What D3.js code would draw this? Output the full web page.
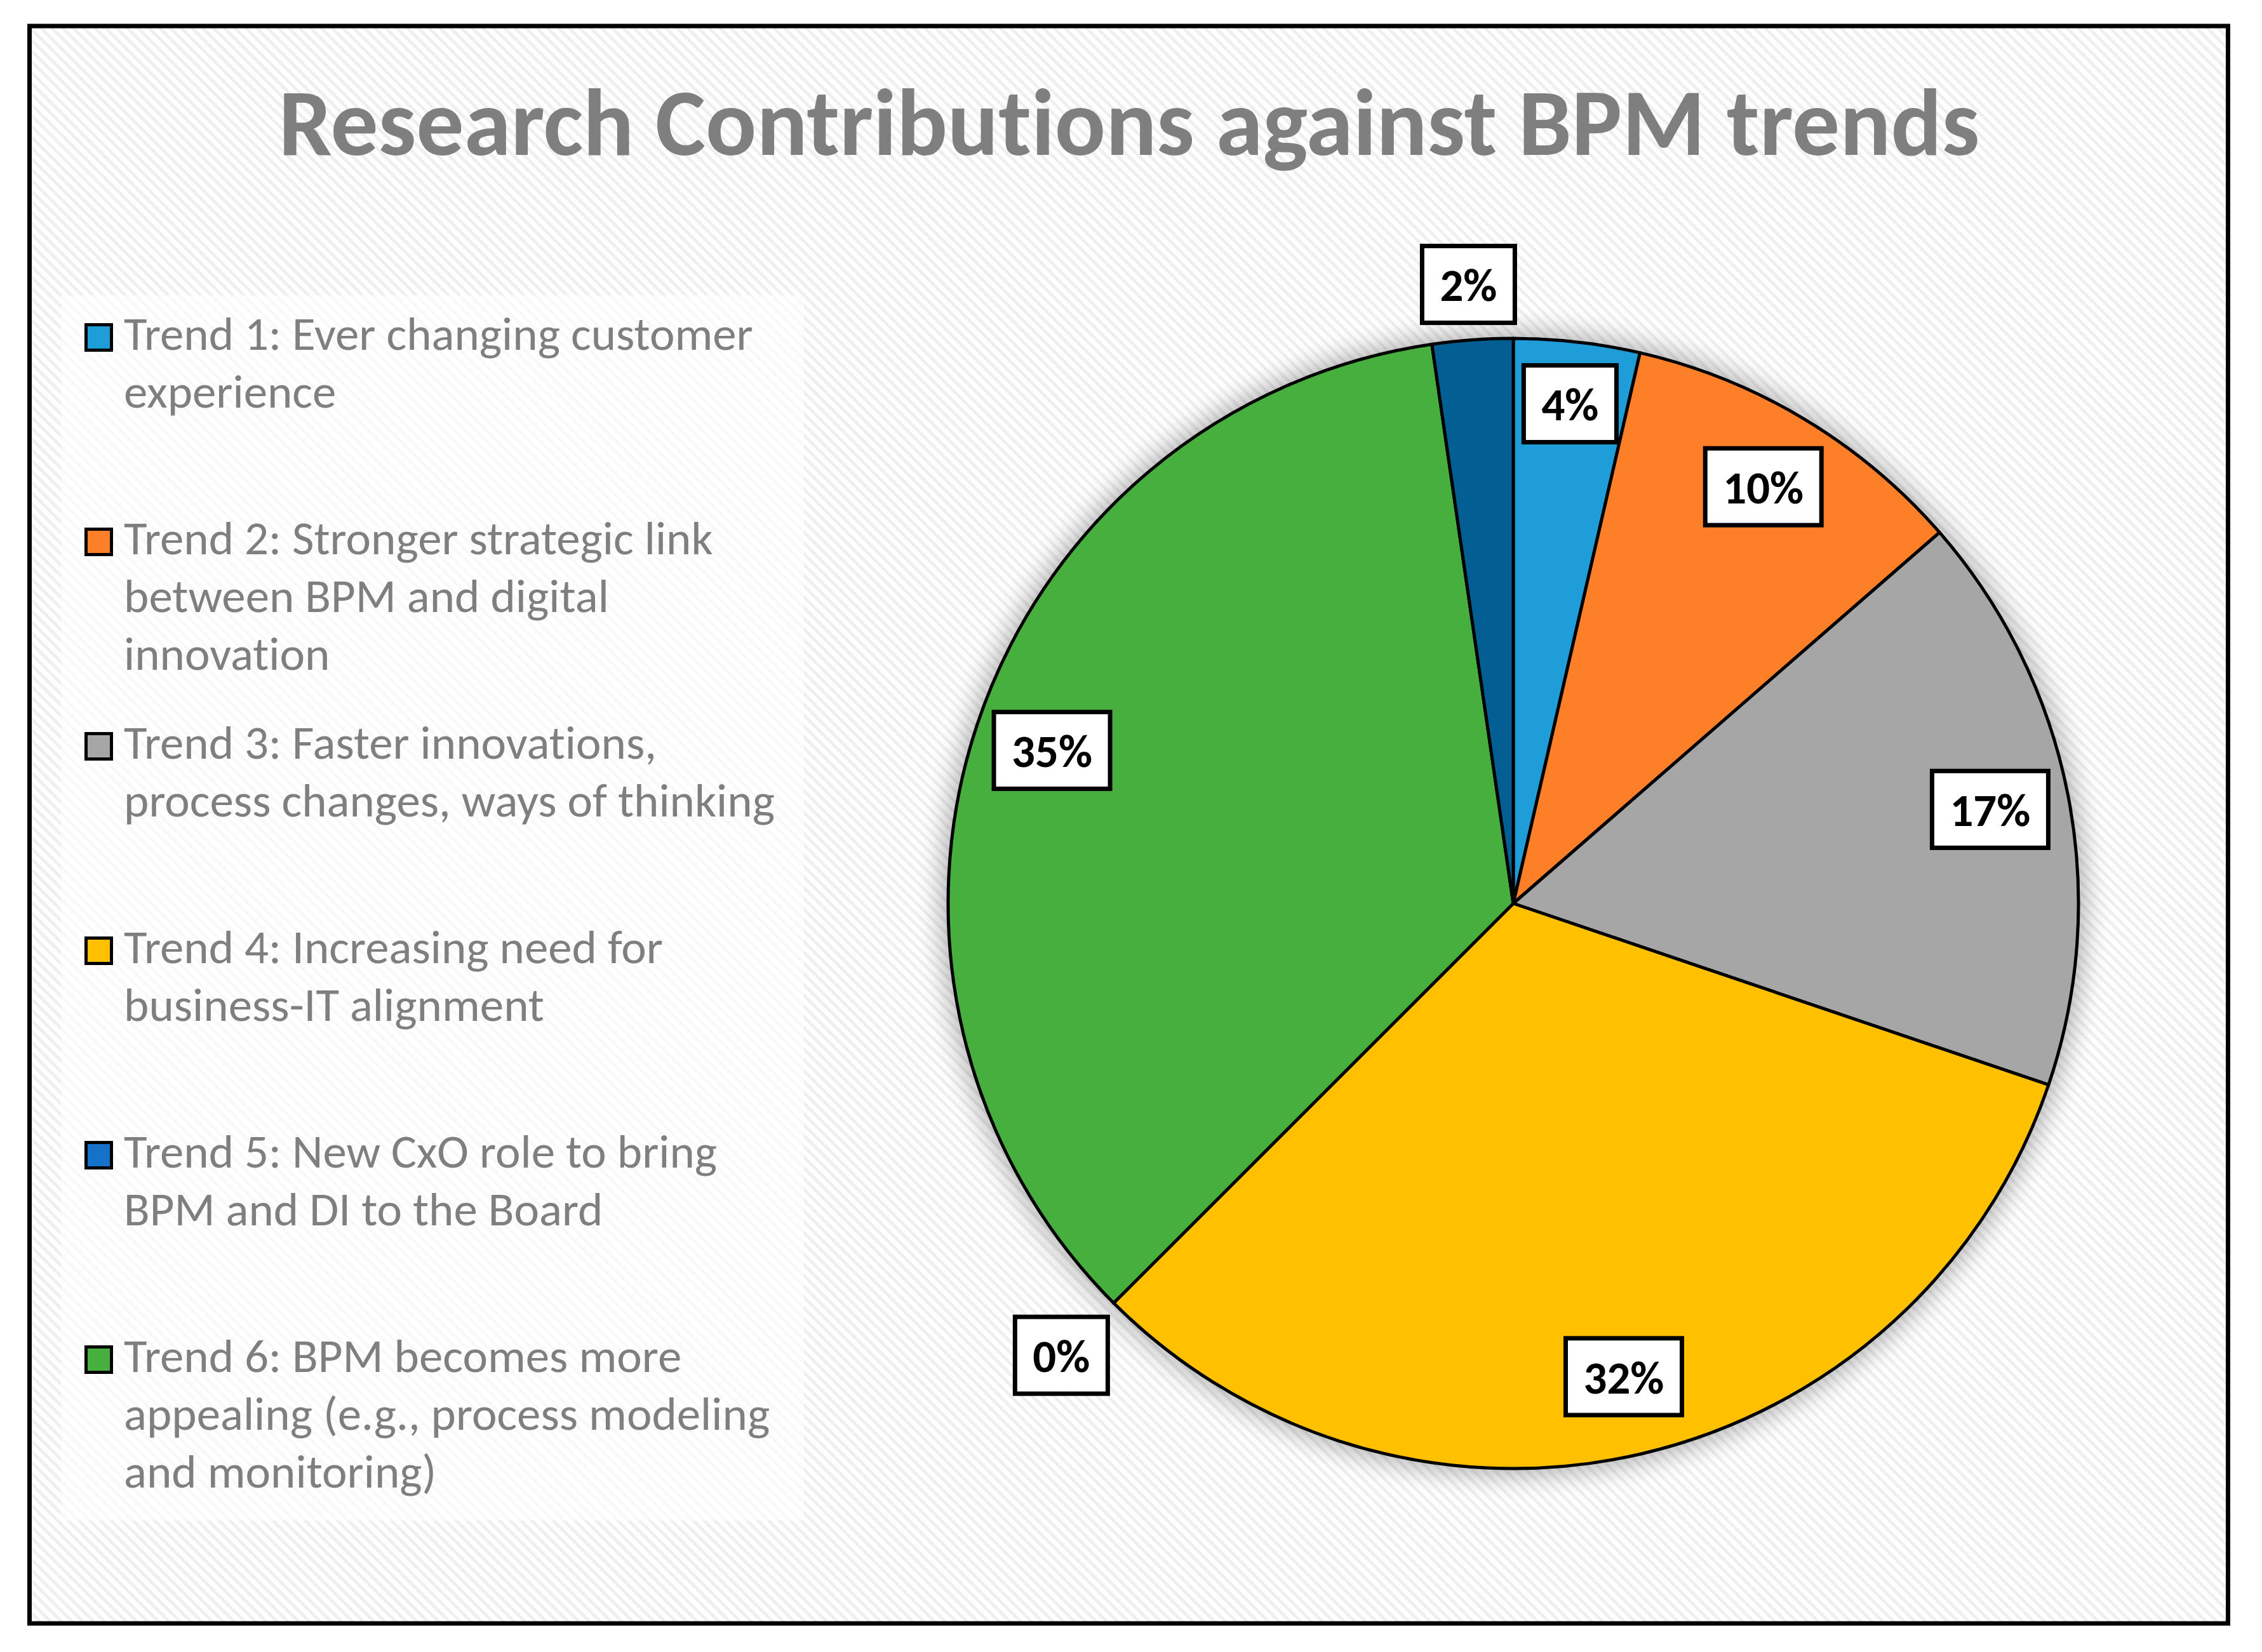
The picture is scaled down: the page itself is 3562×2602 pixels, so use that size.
<!DOCTYPE html>
<html>
<head>
<meta charset="utf-8">
<title>Research Contributions against BPM trends</title>
<script src="https://cdn.jsdelivr.net/npm/d3@7"></script>
<style>
  html, body { margin: 0; padding: 0; background: #ffffff; }
  svg { display: block; }
  text { font-variant-ligatures: none; font-feature-settings: "liga" 0; }
</style>
</head>
<body>
<svg id="chart" width="3562" height="2602"></svg>
<script>
// values (percent, clockwise from 12 o'clock)
var categories = ["Trend 1", "Trend 2", "Trend 3", "Trend 4", "Trend 5", "Trend 6", "Other"];
var values = [3.6, 10.0, 16.6, 32.3, 0, 35.2, 2.3];
var sliceColors = ["#1f9dd9", "#fd7f28", "#a6a6a6", "#ffc000", "#1672c9", "#46af3e", "#025e93"];

// legend text, wrapped the same way as the original
var legendLines = [
    ["Trend 1: Ever changing customer", "experience"],
    ["Trend 2: Stronger strategic link", "between BPM and digital", "innovation"],
    ["Trend 3: Faster innovations,", "process changes, ways of thinking"],
    ["Trend 4: Increasing need for", "business-IT alignment"],
    ["Trend 5: New CxO role to bring", "BPM and DI to the Board"],
    ["Trend 6: BPM becomes more", "appealing (e.g., process modeling", "and monitoring)"]
];
var legendCategories = categories.slice(0, 6);

var chartTitle = "Research Contributions against BPM trends";

var FONT = "Carlito, Calibri, Lato, 'Open Sans', sans-serif";

var svg = d3.select("#chart");
var w = +svg.attr("width");
var h = +svg.attr("height");

var data = categories.map(function (c, i) {
    return { name: c, value: values[i] };
});

var color = d3.scaleOrdinal().domain(categories).range(sliceColors);

// helper: font size so that a string has a given width
function fitSize(str, weight, target) {
    var t = svg.append("text")
        .attr("font-family", FONT)
        .attr("font-weight", weight)
        .attr("font-size", 100)
        .text(str);
    var len = t.node().getComputedTextLength();
    t.remove();
    return 100 * target / len;
}

// background: downward diagonal stripes
var defs = svg.append("defs");
defs.append("pattern")
    .attr("id", "stripes")
    .attr("patternUnits", "userSpaceOnUse")
    .attr("width", 12)
    .attr("height", 12)
    .attr("patternTransform", "rotate(-45)")
    .call(function (p) {
        p.append("rect").attr("width", 12).attr("height", 12).attr("fill", "#ffffff");
        p.append("rect").attr("width", 5).attr("height", 12).attr("fill", "#efefef");
    });

defs.append("filter")
    .attr("id", "glow")
    .attr("x", "-20%").attr("y", "-20%")
    .attr("width", "140%").attr("height", "140%")
    .append("feGaussianBlur")
    .attr("stdDeviation", 20);

svg.append("rect")
    .attr("x", 46.5).attr("y", 41)
    .attr("width", 3462).attr("height", 2516)
    .attr("fill", "url(#stripes)")
    .attr("stroke", "#000")
    .attr("stroke-width", 7);

// title
var titleSize = fitSize(chartTitle, "bold", 2679);
svg.append("text")
    .attr("x", 1778)
    .attr("y", 244)
    .attr("text-anchor", "middle")
    .attr("font-family", FONT)
    .attr("font-weight", "bold")
    .attr("font-size", titleSize)
    .attr("fill", "#7f7f7f")
    .text(chartTitle);

// legend
svg.append("rect")
    .attr("x", 96).attr("y", 465)
    .attr("width", 1170).attr("height", 1930)
    .attr("fill", "#ffffff")
    .attr("opacity", 0.6);

var legendSize = fitSize("process changes, ways of thinking", "normal", 1025);
var legendY = d3.scaleLinear().domain([0, 5]).range([551, 2161]);
var lineStep = 91;

var items = svg.append("g").selectAll("g")
    .data(legendCategories)
    .enter()
    .append("g")
    .attr("transform", function (d, i) { return "translate(0," + legendY(i) + ")"; });

items.append("rect")
    .attr("x", 135.5)
    .attr("y", -39.5)
    .attr("width", 40)
    .attr("height", 40)
    .attr("fill", function (d) { return color(d); })
    .attr("stroke", "#000")
    .attr("stroke-width", 5);

items.append("text")
    .attr("font-family", FONT)
    .attr("font-size", legendSize)
    .attr("fill", "#7f7f7f")
    .selectAll("tspan")
    .data(function (d, i) { return legendLines[i]; })
    .enter()
    .append("tspan")
    .attr("x", 195)
    .attr("y", function (d, j) { return j * lineStep; })
    .text(function (d) { return d; });

// pie
var cx = 2383, cy = 1423, radius = 890;
var pie = d3.pie().sort(null).value(function (d) { return d.value; });
var arc = d3.arc().innerRadius(0).outerRadius(radius);
var arcs = pie(data);

var pieG = svg.append("g").attr("transform", "translate(" + cx + "," + cy + ")");

pieG.append("circle")
    .attr("r", radius + 10)
    .attr("fill", "#000")
    .attr("opacity", 0.3)
    .attr("filter", "url(#glow)");

pieG.selectAll("path.slice")
    .data(arcs)
    .enter()
    .append("path")
    .attr("class", "slice")
    .attr("d", arc)
    .attr("fill", function (d) { return color(d.data.name); })
    .attr("stroke", "#000")
    .attr("stroke-width", 5)
    .attr("stroke-linejoin", "round");

// data labels (white boxes)
var labelSize = fitSize("10%", "bold", 127);
var boxH = 121, padX = 28;

var labels = pieG.selectAll("g.label")
    .data(arcs)
    .enter()
    .append("g")
    .attr("class", "label");

labels.each(function (d) {
    var g = d3.select(this);
    var txt = Math.round(d.data.value) + "%";
    var t = g.append("text")
        .attr("text-anchor", "middle")
        .attr("font-family", FONT)
        .attr("font-weight", "bold")
        .attr("font-size", labelSize)
        .attr("fill", "#000")
        .attr("y", labelSize * 0.36)
        .text(txt);
    var bw = t.node().getComputedTextLength() + 2 * padX;
    g.insert("rect", "text")
        .attr("x", -bw / 2)
        .attr("y", -boxH / 2)
        .attr("width", bw)
        .attr("height", boxH)
        .attr("fill", "#ffffff")
        .attr("stroke", "#000")
        .attr("stroke-width", 7);

    var mid = (d.startAngle + d.endAngle) / 2;
    var dist;
    if (d.data.value < 3) {
        // small slices: label sits just outside the pie
        var support = Math.abs(Math.sin(mid)) * bw / 2 + Math.abs(Math.cos(mid)) * boxH / 2;
        dist = radius + support + 22;
    } else if (d.data.value < 5) {
        // narrow slice: label pushed a little further out
        dist = radius * 0.89;
    } else {
        dist = radius * 0.86;
    }
    g.attr("transform", "translate(" + (Math.sin(mid) * dist) + "," + (-Math.cos(mid) * dist) + ")");
});
</script>
</body>
</html>
